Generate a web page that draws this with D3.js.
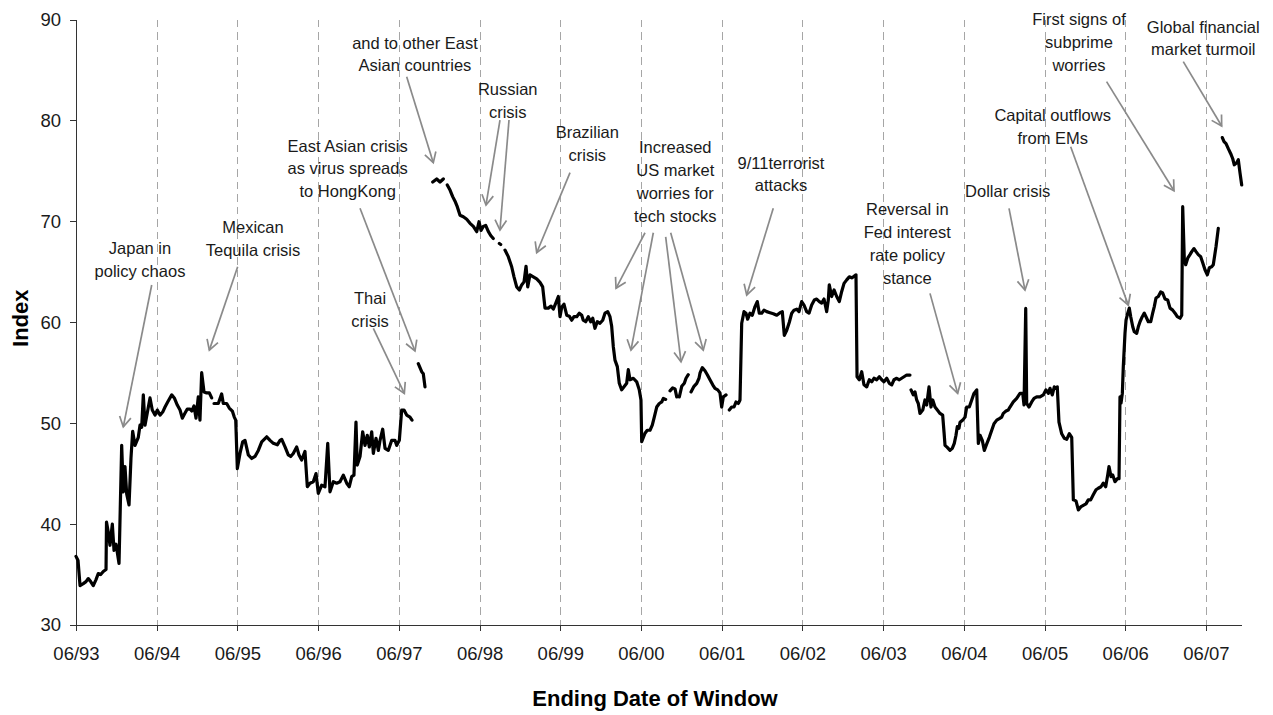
<!DOCTYPE html>
<html lang="en">
<head>
<meta charset="UTF-8">
<title>Index by ending date of window</title>
<script src="https://d3js.org/d3.v7.min.js"></script>
<style>
  body { margin: 0; background: #fff; }
  svg { display: block; font-family: "Liberation Sans", Arial, sans-serif; }
  .axis path, .axis line { stroke: #333; shape-rendering: crispEdges; }
  .axis text { font-size: 18.5px; fill: #1a1a1a; font-family: "Liberation Sans", Arial, sans-serif; }
  .grid line { stroke: #a6a6a6; stroke-width: 1px; stroke-dasharray: 7.5,5; shape-rendering: crispEdges; }
  .series { fill: none; stroke: #000; stroke-width: 3.2px; stroke-linejoin: round; stroke-linecap: round; }
  .note text { font-size: 16.5px; fill: #1a1a1a; text-anchor: middle; }
  .note path { fill: none; stroke: #8a8a8a; stroke-width: 1.7px; stroke-linejoin: miter; }
  .title { font-size: 22px; font-weight: bold; fill: #000; text-anchor: middle; }
</style>
</head>
<body>
<svg width="1273" height="715"></svg>
<script>
// ending date of the window (decimal years); null marks a break in the series
const windowEnd = [
  1993.500,1993.525,1993.550,1993.590,1993.624,1993.652,1993.682,1993.714,1993.748,1993.776,
  1993.806,1993.838,1993.872,1993.878,1993.900,1993.921,1993.950,1993.971,1993.996,1994.033,
  1994.066,1994.086,1994.107,1994.128,1994.157,1994.181,1994.202,1994.231,1994.272,1994.293,
  1994.314,1994.334,1994.355,1994.383,1994.417,1994.445,1994.479,1994.507,1994.541,1994.574,
  1994.603,1994.636,1994.686,1994.718,1994.755,1994.789,1994.817,1994.851,1994.879,1994.913,
  1994.934,1994.962,1994.987,1995.015,1995.036,1995.057,1995.086,1995.119,1995.152,1995.181,
  null,
  1995.210,1995.263,1995.305,1995.325,1995.367,1995.399,1995.437,1995.461,1995.479,1995.499,
  1995.532,1995.565,1995.594,1995.635,1995.677,1995.718,1995.759,1995.801,1995.863,1995.904,
  1995.945,1995.994,1996.028,1996.049,1996.090,1996.130,1996.160,1996.192,1996.234,1996.263,
  1996.296,1996.337,1996.366,1996.399,1996.440,1996.474,1996.502,1996.544,1996.585,1996.619,
  1996.647,1996.688,1996.730,1996.771,1996.812,1996.854,1996.886,1996.916,1996.944,1996.969,
  1996.985,1997.019,1997.052,1997.081,1997.109,1997.134,1997.164,1997.184,1997.217,1997.246,
  1997.267,1997.300,1997.329,1997.369,1997.412,1997.452,1997.474,1997.506,1997.535,1997.564,
  1997.597,1997.638,1997.663,
  null,
  1997.741,1997.783,1997.803,1997.824,
  null,
  1997.920,1997.969,1998.010,1998.051,
  null,
  1998.100,1998.134,1998.167,1998.196,1998.224,1998.258,1998.299,1998.341,1998.382,1998.423,
  1998.465,1998.493,1998.518,1998.546,1998.576,1998.608,1998.638,1998.670,
  null,
  1998.745,1998.762,
  null,
  1998.815,1998.856,1998.898,1998.927,1998.960,1998.993,1999.022,1999.051,1999.076,1999.097,
  1999.125,1999.166,1999.208,1999.249,1999.282,1999.311,1999.352,1999.385,1999.414,1999.447,
  1999.476,1999.497,1999.518,1999.546,1999.580,1999.612,1999.642,1999.670,1999.704,1999.736,
  1999.766,1999.785,1999.815,1999.847,1999.877,1999.902,1999.930,1999.959,1999.992,2000.026,
  2000.054,2000.088,2000.116,2000.137,2000.157,2000.178,2000.207,2000.231,2000.261,2000.290,
  2000.323,2000.343,2000.364,2000.405,2000.447,2000.479,2000.500,2000.509,2000.550,2000.578,
  2000.612,2000.640,2000.665,2000.695,2000.727,2000.757,2000.777,2000.806,
  null,
  2000.860,2000.893,2000.922,2000.943,
  null,
  2000.975,2001.005,2001.037,2001.058,2001.086,
  null,
  2001.120,2001.157,2001.191,2001.219,2001.231,2001.260,2001.293,2001.322,2001.355,2001.389,
  2001.417,2001.451,2001.479,2001.500,2001.520,2001.554,
  null,
  2001.594,2001.624,2001.653,2001.677,2001.706,2001.727,2001.748,2001.777,2001.801,2001.822,
  2001.851,2001.879,2001.913,2001.941,2001.966,2001.996,2002.024,2002.058,2002.099,2002.140,
  2002.182,2002.223,2002.251,2002.276,2002.306,2002.338,2002.368,2002.396,2002.430,2002.458,
  2002.491,2002.520,2002.553,2002.582,2002.615,2002.648,2002.677,2002.710,2002.739,2002.768,
  2002.801,2002.821,2002.833,2002.863,2002.892,2002.925,2002.957,2002.987,2003.016,2003.049,
  2003.081,2003.111,2003.131,2003.164,2003.177,2003.205,2003.235,2003.263,2003.297,2003.329,
  2003.359,2003.387,2003.421,2003.453,2003.483,2003.511,2003.545,2003.577,2003.607,2003.635,
  2003.669,2003.701,2003.730,2003.759,2003.792,2003.833,
  null,
  2003.846,2003.874,2003.895,2003.916,2003.936,2003.957,2003.991,2004.019,2004.040,2004.069,
  2004.093,2004.115,2004.143,2004.172,2004.205,2004.238,2004.255,2004.267,2004.295,2004.329,
  2004.357,2004.382,2004.403,2004.419,2004.440,2004.453,2004.486,2004.515,2004.536,2004.568,
  2004.598,2004.626,2004.660,2004.680,2004.701,2004.729,2004.754,2004.784,2004.816,2004.846,
  2004.874,2004.908,2004.940,2004.969,2004.989,2005.023,2005.051,2005.072,2005.113,2005.155,
  2005.196,2005.230,2005.246,2005.267,2005.279,2005.308,2005.341,2005.370,2005.403,2005.444,
  2005.485,2005.518,2005.547,2005.568,2005.596,2005.621,2005.642,2005.658,2005.679,2005.713,
  2005.745,2005.775,2005.807,2005.837,2005.857,2005.890,2005.919,2005.948,2005.980,2006.014,
  2006.042,2006.072,2006.104,2006.138,2006.166,2006.200,2006.228,2006.258,2006.283,2006.299,
  2006.324,2006.345,2006.373,2006.402,2006.423,2006.435,2006.448,2006.464,2006.476,2006.497,
  2006.510,2006.531,2006.550,2006.568,2006.593,2006.612,2006.642,2006.662,2006.683,2006.711,
  2006.736,2006.766,2006.786,2006.816,2006.840,2006.860,2006.881,2006.910,2006.939,2006.964,
  2006.993,2007.026,2007.055,2007.088,2007.117,2007.145,2007.179,2007.200,2007.212,2007.232,
  2007.249,2007.274,2007.302,2007.324,2007.352,2007.377,2007.405,2007.435,2007.460,2007.488,
  2007.517,2007.542,2007.571,2007.591,2007.625,2007.653,
  null,
  2007.703,2007.724,2007.749,2007.777,2007.807,2007.832,2007.851,2007.881,2007.901,2007.922,
  2007.943
];

// index value for each window, same order as windowEnd
const indexValue = [
  36.8,36.4,33.9,34.1,34.3,34.6,34.3,33.9,34.5,35.1,
  35.0,35.3,35.5,40.2,39.2,37.9,40.0,37.4,38.0,36.1,
  47.8,43.2,45.7,43.0,41.9,46.5,49.2,47.8,48.6,49.8,
  49.6,52.8,49.8,51.0,52.5,51.3,50.8,51.3,50.8,51.1,
  51.6,52.1,52.8,52.5,51.8,51.3,50.5,51.0,51.4,51.4,
  51.2,51.7,50.5,52.6,50.3,55.0,53.1,53.0,53.0,52.5,
  null,
  51.95,51.95,52.9,51.95,51.95,51.5,51.2,50.6,50.3,45.5,
  47.0,48.15,48.3,46.85,46.5,46.7,47.3,48.15,48.65,48.3,
  48.0,47.85,48.3,48.4,47.65,46.85,46.7,47.0,47.65,46.85,
  46.35,47.2,43.7,44.05,44.2,45.0,43.05,43.85,43.7,48.0,
  43.2,44.2,44.05,44.2,44.85,44.05,43.7,44.7,44.85,50.1,
  45.85,46.7,49.15,47.8,48.8,47.65,49.15,47.0,48.5,47.3,
  48.3,49.4,47.5,47.3,48.3,48.3,47.8,48.3,51.3,51.3,
  50.8,50.6,50.3,
  null,
  55.9,55.1,54.9,53.6,
  null,
  73.9,74.2,73.9,74.2,
  null,
  73.6,73.1,72.45,72.0,71.45,70.6,70.45,70.2,69.8,69.5,
  68.97,69.96,69.1,69.5,69.6,69.0,68.6,68.3,
  null,
  67.8,67.7,
  null,
  67.15,66.5,65.5,64.5,63.5,63.2,63.7,64.0,65.55,63.5,
  64.7,64.5,64.3,63.95,63.5,61.4,61.4,61.6,61.3,61.95,
  62.55,60.55,61.5,61.8,60.7,60.6,60.2,60.55,60.55,60.9,
  60.7,60.2,60.05,60.55,60.05,60.4,59.4,60.05,59.9,60.2,
  60.9,61.05,60.55,59.6,57.6,56.25,55.6,53.95,53.3,53.6,
  53.95,55.3,54.3,54.45,54.1,53.3,52.3,48.16,49.0,49.3,
  49.3,49.8,50.6,51.6,51.95,52.1,52.45,52.35,
  null,
  53.2,53.5,53.4,52.6,
  null,
  52.6,53.65,53.95,54.45,54.8,
  null,
  53.1,53.65,53.95,54.45,54.95,55.5,55.2,54.8,54.3,53.8,
  53.45,53.3,53.0,51.6,52.6,52.8,
  null,
  51.3,51.6,51.6,52.1,51.95,52.3,59.9,61.05,60.9,60.3,
  60.9,60.7,61.55,62.05,60.9,60.9,61.2,61.05,60.95,60.85,
  60.7,60.95,61.05,58.7,59.2,60.0,60.9,61.2,61.3,61.05,
  62.05,61.7,61.05,60.9,61.7,62.2,62.3,62.05,61.9,62.3,
  61.05,62.2,63.7,62.55,63.2,62.55,62.05,63.05,63.85,64.2,
  64.5,64.4,64.5,64.7,54.6,54.3,55.1,53.8,53.6,54.3,
  54.1,54.45,54.3,54.6,54.3,54.1,54.45,53.95,53.8,54.3,
  54.45,54.3,54.45,54.6,54.77,54.77,
  null,
  53.3,52.8,53.1,52.3,51.95,50.97,51.3,52.3,51.8,53.6,
  51.6,52.3,51.6,51.3,50.97,50.8,49.1,47.8,47.6,47.3,
  47.5,48.0,48.8,49.65,49.5,50.1,50.3,50.6,51.6,51.6,
  52.3,52.95,53.3,48.0,48.8,48.3,47.3,47.95,48.6,49.3,
  49.95,50.3,50.45,50.6,50.97,51.2,51.3,51.6,52.1,52.45,
  52.95,52.95,51.8,61.37,51.95,51.6,52.1,52.45,52.6,52.6,
  52.8,53.3,52.95,53.45,52.8,53.6,53.45,53.6,50.1,48.95,
  48.5,48.4,48.95,48.6,42.4,42.3,41.4,41.7,41.85,42.0,
  42.4,42.4,42.9,43.4,43.55,43.7,44.05,43.7,44.86,45.7,
  44.7,44.86,44.2,44.5,44.5,52.6,52.0,52.95,55.6,58.9,
  60.2,60.9,61.4,60.55,59.55,59.06,58.9,59.55,60.05,60.55,
  60.9,60.4,60.05,60.05,60.9,61.55,62.4,62.55,63.0,62.9,
  62.3,62.2,61.4,61.2,60.9,60.55,60.4,60.7,71.45,66.2,
  65.7,66.35,66.7,67.0,67.3,67.0,66.7,66.5,65.9,65.2,
  64.7,65.4,65.5,65.7,67.5,69.3,
  null,
  78.3,77.9,77.7,77.2,76.7,76.2,75.6,75.8,76.1,74.8,
  73.6
];

const tickYears = [1993.5,1994.5,1995.5,1996.5,1997.5,1998.5,1999.5,2000.5,2001.5,2002.5,2003.5,2004.5,2005.5,2006.5,2007.5];
const tickLabels = ["06/93","06/94","06/95","06/96","06/97","06/98","06/99","06/00","06/01","06/02","06/03","06/04","06/05","06/06","06/07"];
const yTicks = [30, 40, 50, 60, 70, 80, 90];

// annotations: text lines, label centre [year, index], arrows [fromYear, fromIndex, toYear, toIndex]
const noteLines = [
  ["Japan in", "policy chaos"],
  ["Mexican", "Tequila crisis"],
  ["East Asian crisis", "as virus spreads", "to HongKong"],
  ["Thai", "crisis"],
  ["and to other East", "Asian countries"],
  ["Russian", "crisis"],
  ["Brazilian", "crisis"],
  ["Increased", "US market", "worries for", "tech stocks"],
  ["9/11terrorist", "attacks"],
  ["Reversal in", "Fed interest", "rate policy", "stance"],
  ["Dollar crisis"],
  ["Capital outflows", "from EMs"],
  ["First signs of", "subprime", "worries"],
  ["Global financial", "market turmoil"]
];
const noteAt = [
  [1994.293, 67.35], [1995.693, 69.46], [1996.866, 77.49], [1997.143, 62.37],
  [1997.700, 87.70], [1998.849, 83.08], [1999.835, 78.82], [2000.925, 77.33],
  [2002.235, 75.81], [2003.800, 71.19], [2005.044, 73.00], [2005.601, 80.54],
  [2005.927, 90.02], [2007.467, 89.29]
];
const noteArrows = [
  [[1994.438, 63.69, 1994.086, 49.64]],
  [[1995.503, 65.50, 1995.152, 57.24]],
  [[1997.019, 71.29, 1997.700, 57.15]],
  [[1997.184, 59.40, 1997.568, 52.95]],
  [[1997.597, 84.33, 1997.927, 75.81]],
  [[1998.753, 80.04, 1998.580, 71.62], [1998.865, 80.04, 1998.753, 69.14]],
  [[1999.621, 74.82, 1999.208, 66.89]],
  [[2000.550, 68.87, 2000.191, 63.36], [2000.653, 68.87, 2000.376, 57.24],
   [2000.806, 68.47, 2000.996, 56.09], [2000.868, 68.87, 2001.272, 57.24]],
  [[2002.139, 71.29, 2001.810, 62.70]],
  [[2004.081, 62.86, 2004.424, 52.95]],
  [[2005.060, 71.29, 2005.258, 63.19]],
  [[2005.824, 77.39, 2006.538, 61.70]],
  [[2006.269, 83.84, 2007.104, 73.03]],
  [[2007.219, 85.82, 2007.695, 79.45]]
];

const width = 1273, height = 715;
const margin = { top: 19.5, right: 31.3, bottom: 90, left: 76 };
const innerW = width - margin.left - margin.right;
const innerH = height - margin.top - margin.bottom;

const svg = d3.select("svg");
const g = svg.append("g").attr("transform", `translate(${margin.left},${margin.top})`);

const x = d3.scaleLinear().domain([1993.5, 2007.943]).range([0, innerW]);
const y = d3.scaleLinear().domain([30, 90]).range([innerH, 0]);

// dashed year lines
g.append("g").attr("class", "grid")
  .selectAll("line")
  .data(tickYears.slice(1))
  .join("line")
  .attr("x1", d => Math.round(x(d)) + 0.5)
  .attr("x2", d => Math.round(x(d)) + 0.5)
  .attr("y1", y(90))
  .attr("y2", y(30));

// axes
g.append("g").attr("class", "axis")
  .attr("transform", `translate(0,${innerH})`)
  .call(d3.axisBottom(x).tickValues(tickYears).tickFormat((d, i) => tickLabels[i])
    .tickSize(6).tickSizeOuter(0).tickPadding(16));

g.append("g").attr("class", "axis")
  .call(d3.axisLeft(y).tickValues(yTicks).tickSize(6).tickSizeOuter(0).tickPadding(9));

// series
const points = windowEnd.map((t, i) => ({ t: t, v: indexValue[i] }));
const line = d3.line()
  .defined(d => d.t != null && d.v != null)
  .x(d => x(d.t))
  .y(d => y(d.v));

g.append("path")
  .datum(points)
  .attr("class", "series")
  .attr("d", line);

// annotations
const notes = g.append("g").attr("class", "note");
const lineGap = 22.8;

noteLines.forEach((lines, i) => {
  const [tx, ty] = noteAt[i];
  const txt = notes.append("text")
    .attr("x", x(tx))
    .attr("y", y(ty));
  lines.forEach((s, k) => {
    txt.append("tspan")
      .attr("x", x(tx))
      .attr("dy", k === 0 ? "0.36em" : lineGap)
      .text(s);
  });

  noteArrows[i].forEach(a => {
    const x1 = x(a[0]), y1 = y(a[1]), x2 = x(a[2]), y2 = y(a[3]);
    const ang = Math.atan2(y1 - y2, x1 - x2);
    const len = 11.5, spread = Math.PI / 6;
    const h1 = [x2 + len * Math.cos(ang + spread), y2 + len * Math.sin(ang + spread)];
    const h2 = [x2 + len * Math.cos(ang - spread), y2 + len * Math.sin(ang - spread)];
    notes.append("path").attr("d", `M${x1},${y1}L${x2},${y2}`);
    notes.append("path").attr("d", `M${h1[0]},${h1[1]}L${x2},${y2}L${h2[0]},${h2[1]}`);
  });
});

// axis titles
svg.append("text").attr("class", "title")
  .attr("transform", `translate(28,${margin.top + y(60) - 4}) rotate(-90)`)
  .text("Index");

svg.append("text").attr("class", "title")
  .attr("x", 655)
  .attr("y", 706)
  .text("Ending Date of Window");
</script>
</body>
</html>
